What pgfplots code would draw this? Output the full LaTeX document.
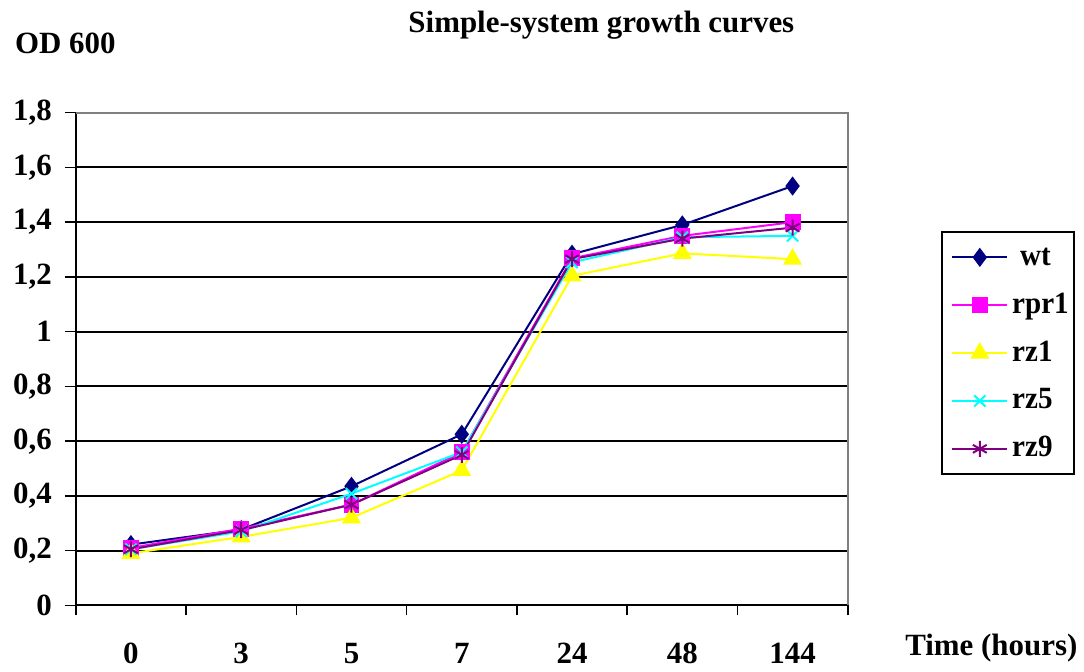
\documentclass[border=0pt]{standalone}
\usepackage{pgfplots}
\pgfplotsset{compat=1.18}
\usepackage{fontspec}
\setmainfont{Liberation Serif}

\definecolor{cwt}{HTML}{000080}
\definecolor{crpr}{HTML}{FF00FF}
\definecolor{crzone}{HTML}{FFFF00}
\definecolor{crzfive}{HTML}{00FFFF}
\definecolor{crznine}{HTML}{800080}
\definecolor{frame}{HTML}{808080}

\newcommand{\legtext}[1]{\scalebox{0.94}[1]{#1}}

\begin{document}
\begin{tikzpicture}[x=1pt,y=1pt]
% page extent
\path (0,0) rectangle (542,336.5);
\begin{axis}[
  at={(38pt,33pt)}, anchor=south west,
  width=387pt, height=247pt, scale only axis,
  xmin=-0.5, xmax=6.5, ymin=0, ymax=1.8,
  xtick={0,...,6},
  xticklabels={0,3,5,7,24,48,144},
  minor xtick={-0.5,0.5,...,6.5},
  ytick={0,0.2,...,1.8},
  axis x line*=bottom, axis y line*=left,
  axis line style={black, line width=1pt},
  tick align=outside,
  major tick length=5.5pt,
  minor tick length=5pt,
  every tick/.style={black, line width=0.8pt},
  xtick style={draw=none},
  minor x tick style={draw=black, line width=0.8pt},
  ymajorgrids,
  major grid style={black, line width=1pt},
  tick label style={font=\fontsize{15.5}{17}\selectfont\bfseries},
  /pgf/number format/assume math mode=true,
  yticklabel style={/pgf/number format/fixed, /pgf/number format/precision=1, /pgf/number format/use comma, xshift=-3pt},
  xticklabel style={yshift=-10pt},
  clip=false,
  legend style={at={(1.1214,0.759)}, anchor=north west, draw=black, line width=1pt,
    font=\fontsize{15.5}{17}\selectfont\bfseries, row sep=10pt, inner xsep=0.5pt, inner ysep=5.5pt,
    nodes={text height=11pt, text depth=3pt, inner xsep=2pt, inner ysep=0pt},
    cells={anchor=west}},
  legend cell align=left,
  legend image code/.code={
    \path (0pt,0pt);
    \draw[mark repeat=2, mark phase=2] plot coordinates {(4pt,0pt) (17.75pt,0pt) (31.5pt,0pt)};},
  every axis plot/.append style={line width=1pt},
]
% grey plot-area border on the top and right
\draw[frame, line width=1pt] (axis cs:-0.5,1.8) -- (axis cs:6.5,1.8) -- (axis cs:6.5,0);

\addplot[cwt, mark=diamond*, mark size=4pt, mark options={fill=cwt}] coordinates {
  (0,0.222) (1,0.277) (2,0.435) (3,0.625) (4,1.283) (5,1.390) (6,1.532)};
\addlegendentry{\hspace{4pt}\legtext{wt}}
\addplot[crpr, mark=square*, mark size=3.5pt, mark options={fill=crpr}] coordinates {
  (0,0.210) (1,0.280) (2,0.368) (3,0.559) (4,1.268) (5,1.350) (6,1.400)};
\addlegendentry{\legtext{rpr1}}
\addplot[crzone, mark=triangle*, mark size=4.5pt, mark options={fill=crzone}] coordinates {
  (0,0.190) (1,0.250) (2,0.320) (3,0.493) (4,1.204) (5,1.286) (6,1.265)};
\addlegendentry{\legtext{rz1}}
\addplot[crzfive, mark=x, mark size=4pt, mark options={line width=1pt}] coordinates {
  (0,0.205) (1,0.270) (2,0.408) (3,0.560) (4,1.253) (5,1.345) (6,1.350)};
\addlegendentry{\legtext{rz5}}
\addplot[crznine, mark=asterisk, mark size=4pt, mark options={line width=1pt}] coordinates {
  (0,0.205) (1,0.275) (2,0.368) (3,0.550) (4,1.265) (5,1.340) (6,1.380)};
\addlegendentry{\legtext{rz9}}
\end{axis}
\node[font=\fontsize{15.5}{17}\selectfont\bfseries] at (301.5,324) {Simple-system growth curves};
\node[font=\fontsize{15.5}{17}\selectfont\bfseries, anchor=west] at (4,314.5) {OD 600};
\node[font=\fontsize{15.5}{17}\selectfont\bfseries] at (497,11.5) {Time (hours)};
\end{tikzpicture}
\end{document}
